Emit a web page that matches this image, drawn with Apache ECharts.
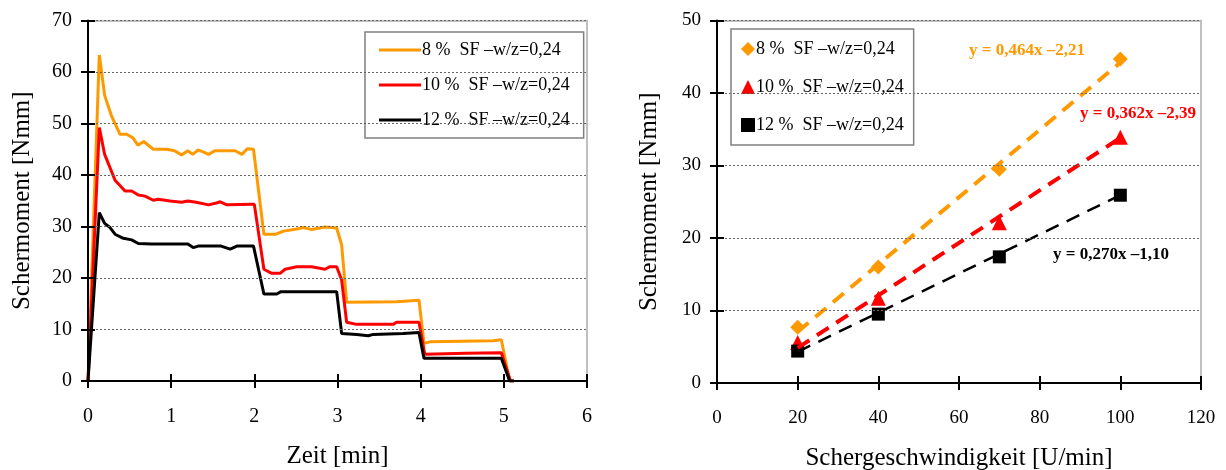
<!DOCTYPE html>
<html><head><meta charset="utf-8">
<script src="https://cdn.jsdelivr.net/npm/echarts@6/dist/echarts.min.js"></script>
<style>
html,body{margin:0;padding:0;background:#fff;}
#l{position:absolute;left:0;top:0;width:613px;height:470px;}
#r{position:absolute;left:613px;top:0;width:613px;height:470px;}
</style></head><body>
<div id="l"></div><div id="r"></div>
<script>
// ---------- left chart data ----------
const seriesNames = ['8 % \u00a0SF \u2013w/z=0,24', '10 % \u00a0SF \u2013w/z=0,24', '12 % \u00a0SF \u2013w/z=0,24'];
const colors = ['#FF9900', '#FF0000', '#000000'];
const t8 = [0,0.136,0.2,0.28,0.385,0.465,0.54,0.6,0.67,0.785,0.945,1.04,1.125,1.2,1.26,1.32,1.385,1.45,1.525,1.77,1.85,1.915,1.99,2.115,2.26,2.35,2.51,2.59,2.69,2.85,2.99,3.05,3.11,3.71,3.98,4.04,4.11,4.87,4.97,5.07,5.12];
const v8 = [0,63.3,55.5,51.6,47.9,47.9,47.2,45.8,46.5,45.0,45.0,44.7,43.9,44.7,44.0,44.85,44.5,44.0,44.7,44.7,44.0,45.1,45.0,28.5,28.5,29.1,29.5,29.8,29.4,29.9,29.7,26.4,15.3,15.4,15.7,7.3,7.6,7.8,8.0,0,0];
const t10 = [0,0.136,0.2,0.325,0.445,0.525,0.605,0.685,0.785,0.845,0.985,1.125,1.2,1.3,1.45,1.53,1.59,1.67,1.97,2.0,2.115,2.21,2.31,2.37,2.51,2.69,2.85,2.91,2.99,3.05,3.11,3.23,3.67,3.71,3.98,4.05,4.55,4.97,5.08,5.12];
const v10 = [0,49.2,44.0,39.0,36.9,36.9,36.1,35.9,35.1,35.3,34.95,34.7,34.95,34.7,34.2,34.5,34.8,34.2,34.3,34.3,21.7,20.9,20.9,21.7,22.2,22.2,21.7,22.2,22.2,19.6,11.4,11.0,11.0,11.4,11.4,5.2,5.4,5.5,0,0];
const t12 = [0,0.136,0.2,0.265,0.325,0.425,0.525,0.605,0.765,1.2,1.265,1.325,1.6,1.71,1.79,1.99,2.115,2.27,2.32,2.99,3.05,3.23,3.37,3.43,3.79,3.98,4.04,4.97,5.07,5.12];
const v12 = [0,32.7,30.6,29.8,28.5,27.7,27.4,26.7,26.6,26.6,25.9,26.2,26.2,25.6,26.2,26.2,16.9,16.9,17.35,17.35,9.2,9.05,8.8,9.05,9.2,9.4,4.4,4.4,0,0];

// ---------- right chart data ----------
const speeds = [20, 40, 70, 100];
const m8 = [7.7, 16.0, 29.5, 44.7];
const m10 = [5.6, 11.7, 22.1, 33.9];
const m12 = [4.4, 9.5, 17.4, 25.9];
const trendX = [20, 100];
const trend8 = [7.07, 44.19];
const trend10 = [4.85, 33.81];
const trend12 = [4.30, 25.90];
const equations = ['y = 0,464x \u20132,21', 'y = 0,362x \u20132,39', 'y = 0,270x \u20131,10'];

const FONT = 'Liberation Serif';
function zip(a, b) { return a.map((x, i) => [x, b[i]]); }

function axesPair(kind, min, max, interval, name, nameGap, labelSize, labelMargin) {
  const main = {
    type: 'value', min, max, interval,
    position: kind === 'x' ? 'bottom' : 'left',
    name, nameLocation: 'middle', nameGap,
    nameTextStyle: { fontFamily: FONT, fontSize: 25, color: '#000' },
    axisLine: { show: true, onZero: false, lineStyle: { color: '#000', width: 2 } },
    axisTick: { show: true, inside: false, length: 7, lineStyle: { color: '#000', width: 2 } },
    axisLabel: { fontFamily: FONT, fontSize: labelSize, color: '#000', margin: labelMargin },
    splitLine: kind === 'y' ? { show: true, lineStyle: { color: '#666', width: 1, type: [2, 2] } } : { show: false },
    z: 5
  };
  const inner = {
    type: 'value', min, max, interval,
    position: kind === 'x' ? 'bottom' : 'left',
    axisLine: { show: false, onZero: false },
    axisTick: { show: true, inside: true, length: 7, lineStyle: { color: '#000', width: 2 } },
    axisLabel: { show: false }, splitLine: { show: false }, z: 5
  };
  const border = {
    type: 'value', min, max, interval,
    position: kind === 'x' ? 'top' : 'right',
    axisLine: { show: true, onZero: false, lineStyle: { color: '#c0c0c0', width: 2 } },
    axisTick: { show: false }, axisLabel: { show: false }, splitLine: { show: false }, z: 4
  };
  return [main, inner, border];
}

// ---------- left chart ----------
const left = echarts.init(document.getElementById('l'), null, { renderer: 'canvas' });
left.setOption({
  animation: false,
  backgroundColor: '#fff',
  grid: { left: 88, top: 20.5, width: 499, height: 360.5, outerBoundsMode: 'none', containLabel: false },
  xAxis: axesPair('x', 0, 6, 1, 'Zeit [min]', 63, 20, 26),
  yAxis: axesPair('y', 0, 70, 10, 'Schermoment [Nmm]', 53, 20, 16),
  legend: {
    orient: 'vertical', left: 365, top: 32,
    backgroundColor: '#fff', borderColor: '#808080', borderWidth: 1.5, borderRadius: 0,
    padding: [9, 14, 9, 14], itemGap: 17, itemWidth: 42, itemHeight: 3, icon: 'rect',
    textStyle: { fontFamily: FONT, fontSize: 18, color: '#000', padding: [0, 0, 0, -4] },
    data: seriesNames
  },
  series: [
    { name: seriesNames[0], type: 'line', data: zip(t8, v8), showSymbol: false, symbol: 'none', lineStyle: { color: colors[0], width: 3 }, itemStyle: { color: colors[0] }, z: 3 },
    { name: seriesNames[1], type: 'line', data: zip(t10, v10), showSymbol: false, symbol: 'none', lineStyle: { color: colors[1], width: 3 }, itemStyle: { color: colors[1] }, z: 3 },
    { name: seriesNames[2], type: 'line', data: zip(t12, v12), showSymbol: false, symbol: 'none', lineStyle: { color: colors[2], width: 3 }, itemStyle: { color: colors[2] }, z: 3 }
  ]
});

// ---------- right chart ----------
const right = echarts.init(document.getElementById('r'), null, { renderer: 'canvas' });
const symbols = ['diamond', 'triangle', 'rect'];
const symSizes = [15, 15, 13];
const trends = [trend8, trend10, trend12];
const measured = [m8, m10, m12];
const dashW = [4, 4, 2.5];
const series = [];
for (let i = 0; i < 3; i++) {
  series.push({ name: seriesNames[i], type: 'scatter', data: zip(speeds, measured[i]), symbol: symbols[i], symbolSize: symSizes[i], itemStyle: { color: colors[i], opacity: 1 }, z: 3 });
}
for (let i = 0; i < 3; i++) {
  series.push({ name: 'trend' + i, type: 'line', data: zip(trendX, trends[i]), symbol: 'none', lineStyle: { color: colors[i], width: dashW[i], type: [14, 9] }, z: 4, silent: true });
}
right.setOption({
  animation: false,
  backgroundColor: '#fff',
  grid: { left: 104, top: 20.5, width: 484, height: 362.5, outerBoundsMode: 'none', containLabel: false },
  xAxis: axesPair('x', 0, 120, 20, 'Schergeschwindigkeit [U/min]', 63, 19, 26),
  yAxis: axesPair('y', 0, 50, 10, 'Schermoment [Nmm]', 55, 19, 16),
  legend: {
    orient: 'vertical', left: 118, top: 29,
    backgroundColor: '#fff', borderColor: '#808080', borderWidth: 1.5, borderRadius: 0,
    padding: [11, 10, 11, 10], itemGap: 20, itemWidth: 14, itemHeight: 14,
    itemStyle: { opacity: 1 },
    textStyle: { fontFamily: FONT, fontSize: 18, color: '#000', padding: [0, 0, 0, -4] },
    data: seriesNames
  },
  graphic: [
    { type: 'text', left: 356, top: 42, style: { text: equations[0], fill: colors[0], font: 'bold 17px "Liberation Serif"' } },
    { type: 'text', left: 467, top: 105, style: { text: equations[1], fill: colors[1], font: 'bold 17px "Liberation Serif"' } },
    { type: 'text', left: 440, top: 246, style: { text: equations[2], fill: colors[2], font: 'bold 17px "Liberation Serif"' } }
  ],
  series
});
</script>
</body></html>
